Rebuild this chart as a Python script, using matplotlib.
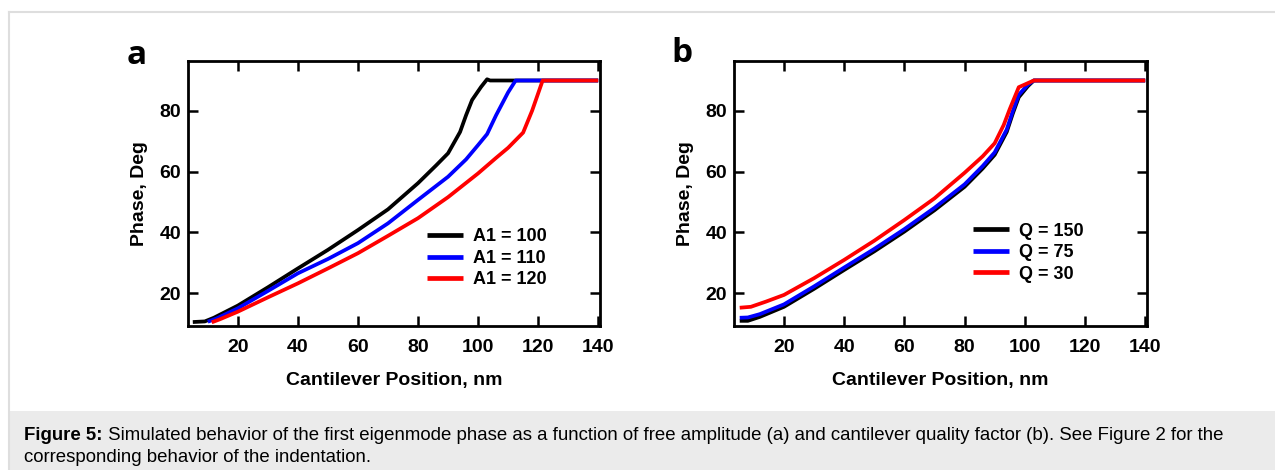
import matplotlib
matplotlib.use("Agg")
import matplotlib.pyplot as plt
from matplotlib.patches import Rectangle
from matplotlib.lines import Line2D

plt.rcParams['font.family'] = ['Liberation Sans', 'DejaVu Sans']

# ---- Panel a data (free amplitude A1) ----
labels_a = ["A1 = 100", "A1 = 110", "A1 = 120"]
x_a100 = [5, 9, 12, 20, 30, 40, 50, 60, 70, 80, 86, 90, 94, 96, 98, 101, 103, 104, 140]
y_a100 = [10.6, 10.8, 12, 16, 22, 28.2, 34.3, 40.8, 47.6, 56.2, 62, 66, 73, 78.5, 83.5, 87.8, 90.3, 89.9, 89.9]
x_a110 = [10, 13, 20, 30, 40, 50, 60, 70, 80, 90, 96, 100, 103, 106, 110, 112.5, 140]
y_a110 = [10.7, 11.8, 15.1, 20.8, 26.6, 31.3, 36.5, 43, 50.7, 58.3, 64, 68.7, 72.3, 78.5, 86, 89.9, 89.9]
x_a120 = [11.3, 14, 20, 30, 40, 50, 60, 70, 80, 90, 100, 106, 110, 115, 118, 121.5, 140]
y_a120 = [10.5, 11.5, 14, 18.7, 23.3, 28.2, 33.2, 38.9, 44.7, 51.6, 59.4, 64.5, 67.8, 72.8, 80, 89.9, 89.9]

# ---- Panel b data (quality factor Q) ----
labels_b = ["Q = 150", "Q = 75", "Q = 30"]
x_b150 = [5.3, 8, 12, 20, 30, 40, 50, 60, 70, 80, 86, 90, 94, 96, 98, 101, 103, 140]
y_b150 = [11, 11, 12.3, 15.6, 21.5, 27.7, 33.8, 40.3, 47.3, 55, 61, 65.5, 73, 79, 84.4, 88, 89.9, 89.9]
x_b75 = [5.3, 8, 12, 20, 30, 40, 50, 60, 70, 80, 86, 90, 94, 96, 98, 101, 103, 140]
y_b75 = [12, 12.1, 13.2, 16.4, 22.3, 28.5, 34.6, 41.1, 48.1, 55.8, 61.8, 66.3, 73.8, 79.8, 85.2, 88.5, 89.9, 89.9]
x_b30 = [5.3, 9, 14, 20, 30, 40, 50, 60, 70, 80, 86, 90, 93, 95, 98, 103, 140]
y_b30 = [15.3, 15.6, 17.3, 19.5, 25, 31, 37.3, 44.1, 51.2, 59.6, 65, 69.3, 75.3, 80.5, 87.7, 89.9, 89.9]

x_ticks = [20, 40, 60, 80, 100, 120, 140]
y_ticks = [20, 40, 60, 80]
colors = ["#000000", "#0000ff", "#ff0000"]

caption_bold = "Figure 5:"
caption_rest = (" Simulated behavior of the first eigenmode phase as a function of free amplitude (a) and "
                "cantilever quality factor (b). See Figure 2 for the")
caption_line2 = "corresponding behavior of the indentation."

fig = plt.figure(figsize=(12.75, 4.7), dpi=100)
W, H = 1275, 470

# background frame and caption box
fig.patches.append(Rectangle((9 / W, 0), 1 - 9 / W, (H - 411) / H, transform=fig.transFigure,
                             facecolor="#ebebeb", edgecolor="none", zorder=0))
fig.lines.append(Line2D([9 / W, 9 / W], [0, 1 - 12 / H], transform=fig.transFigure,
                        color="#dedede", lw=1.5, zorder=1))
fig.lines.append(Line2D([9 / W, 1], [1 - 12 / H, 1 - 12 / H], transform=fig.transFigure,
                        color="#dedede", lw=1.5, zorder=1))


def make_axes(left_px, right_px):
    top_px, bot_px = 61, 326
    return fig.add_axes([left_px / W, (H - bot_px) / H, (right_px - left_px) / W, (bot_px - top_px) / H])


def style(ax):
    ax.set_xlim(3.4, 140.6)
    ax.set_ylim(9.3, 96.3)
    ax.set_xticks(x_ticks)
    ax.set_yticks(y_ticks)
    ax.tick_params(direction="in", length=7, width=1.8, top=True, right=True,
                   labelsize=14, pad=9)
    ax.tick_params(axis="y", pad=5)
    for lab in ax.get_xticklabels() + ax.get_yticklabels():
        lab.set_fontweight("bold")
    for s in ax.spines.values():
        s.set_linewidth(2)
    ax.set_xlabel("Cantilever Position, nm", fontsize=14, fontweight="bold", labelpad=12)
    ax.set_ylabel("Phase, Deg", fontsize=14, fontweight="bold", labelpad=8)


# Panel a
ax1 = make_axes(188, 600)
for xs, ys, c, lab in zip([x_a100, x_a110, x_a120], [y_a100, y_a110, y_a120], colors, labels_a):
    ax1.plot(xs, ys, color=c, lw=2.7, label=lab, solid_capstyle="butt", solid_joinstyle="round")
style(ax1)
leg1 = ax1.legend(loc="center left", bbox_to_anchor=(0.58, 0.255), frameon=False,
                  prop={"weight": "bold", "size": 13}, handlelength=2.0, handletextpad=0.55,
                  labelspacing=0.25, borderpad=0, borderaxespad=0)
for l in leg1.get_lines():
    l.set_linewidth(3.4)
fig.text(137 / W, 1 - 56 / H, "a", fontsize=24, fontweight="bold", ha="center", va="center",
         family=["Open Sans", "DejaVu Sans"])

# Panel b
ax2 = make_axes(734, 1147)
for xs, ys, c, lab in zip([x_b150, x_b75, x_b30], [y_b150, y_b75, y_b30], colors, labels_b):
    ax2.plot(xs, ys, color=c, lw=2.7, label=lab, solid_capstyle="butt", solid_joinstyle="round")
style(ax2)
leg2 = ax2.legend(loc="center left", bbox_to_anchor=(0.578, 0.277), frameon=False,
                  prop={"weight": "bold", "size": 13}, handlelength=2.0, handletextpad=0.55,
                  labelspacing=0.25, borderpad=0, borderaxespad=0)
for l in leg2.get_lines():
    l.set_linewidth(3.4)
fig.text(682 / W, 1 - 54 / H, "b", fontsize=24, fontweight="bold", ha="center", va="center",
         family=["Open Sans", "DejaVu Sans"])

# Caption
t = fig.text(24 / W, 1 - 435 / H, caption_bold, fontsize=13.4, fontweight="bold", va="center", ha="left")
fig.canvas.draw()
bb = t.get_window_extent()
fig.text(bb.x1 / W, 1 - 435 / H, caption_rest, fontsize=13.4, va="center", ha="left")
fig.text(24 / W, 1 - 458 / H, caption_line2, fontsize=13.4, va="center", ha="left")

fig.savefig("out.png", dpi=100)
